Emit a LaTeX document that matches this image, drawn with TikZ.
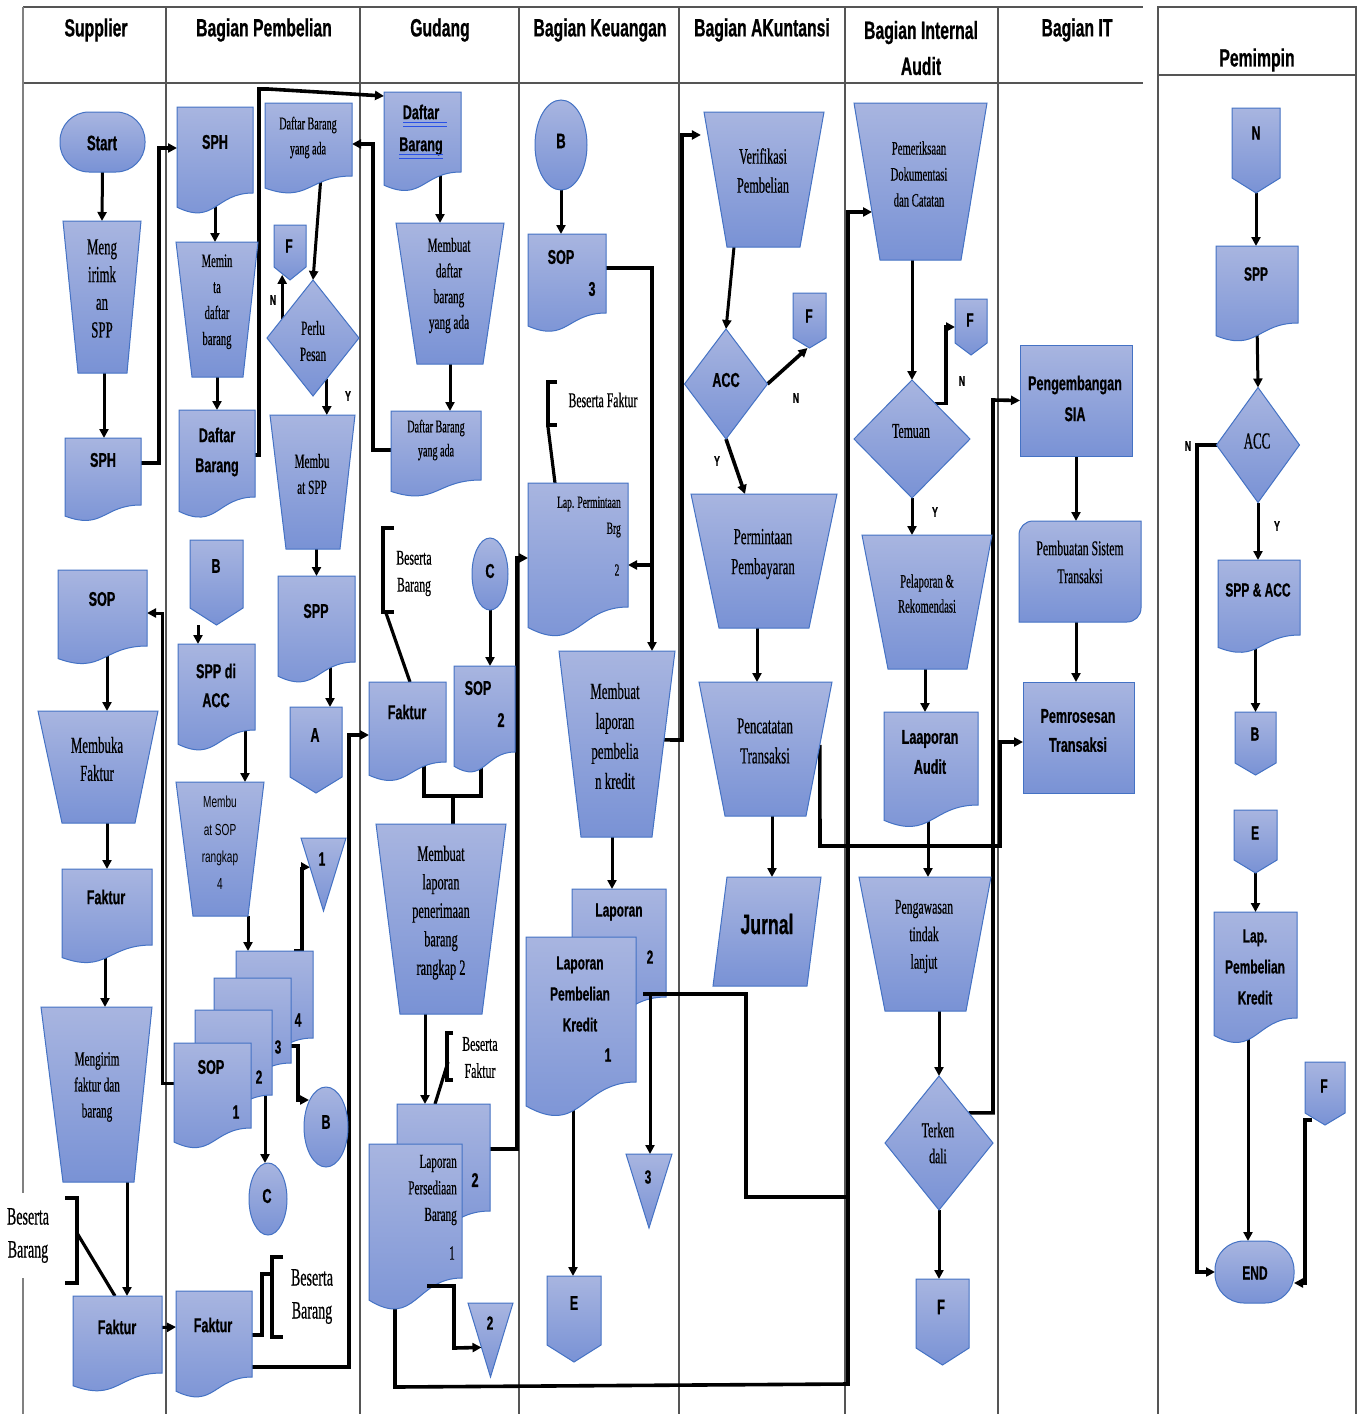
\documentclass[tikz,border=0pt]{standalone}
\usepackage{fontspec}
\usetikzlibrary{arrows.meta,calc}
\newfontfamily\sbf{Liberation Sans}[FakeStretch=0.63,FakeBold=0.6]
\newfontfamily\srf{Liberation Serif}[FakeStretch=0.56,FakeBold=0.5]
\newfontfamily\srg{Liberation Sans}[FakeStretch=0.63]
\definecolor{topc}{RGB}{168,181,224}
\definecolor{botc}{RGB}{121,146,213}
\definecolor{bordc}{RGB}{68,114,196}
\definecolor{gridc}{RGB}{85,85,85}
\definecolor{ulc}{RGB}{40,80,230}
\pgfdeclarelayer{bg}\pgfsetlayers{bg,main}
\tikzset{
 shp/.style={draw=bordc, line width=1pt, top color=topc, bottom color=botc},
 box/.style={rectangle, draw=none, fill=none, inner sep=0pt, outer sep=0pt},
 arr/.style={line width=3pt, -{Triangle[length=9pt,width=9pt]}},
 ln/.style={line width=3.2pt},
 tk/.style={line width=3.6pt},
 grid/.style={draw=gridc, line width=1.1pt},
 sb/.style 2 args={font=\sbf\bfseries\fontsize{#1}{#2}\selectfont, align=center, inner sep=0pt},
 sr/.style 2 args={font=\srf\fontsize{#1}{#2}\selectfont, align=center, inner sep=0pt},
 sn/.style 2 args={font=\srg\fontsize{#1}{#2}\selectfont, align=center, inner sep=0pt},
}
% document shape: name, x1, y1, x2, y2 (y2 = bottom of right edge)
\newcommand\Doc[5]{%
  \pgfmathsetmacro\docA{#5-#3}%
  \pgfmathsetmacro\docM{(#2+#4)/2}%
  \pgfmathsetmacro\docL{#3+1.165*\docA}%
  \pgfmathsetmacro\docC{#3+1.38*\docA}%
  \path[shp] (#2,#3) -- (#4,#3) -- (#4,#5) .. controls (\docM,#5) and (\docM,\docC) .. (#2,\docL) -- cycle;
  \node[box, minimum width={(#4-#2)*1pt}, minimum height={(#5-#3)*1pt}] (#1) at (\docM,{(#3+#5)/2}) {};
}
% quadrilateral (manual operation / parallelogram): name, xt1, xt2, yt, xb1, xb2, yb
\newcommand\Trap[7]{%
  \path[shp] (#2,#4) -- (#3,#4) -- (#6,#7) -- (#5,#7) -- cycle;
  \coordinate (#1-tl) at (#2,#4); \coordinate (#1-tr) at (#3,#4);
  \coordinate (#1-bl) at (#5,#7); \coordinate (#1-br) at (#6,#7);
  \node[box, minimum width={(#3-#2)*1pt}, minimum height={(#7-#4)*1pt}] (#1) at ({(#2+#3)/2},{(#4+#7)/2}) {};
}
% off-page connector: name, x1, x2, ytop, yside, ypoint
\newcommand\Off[6]{%
  \path[shp] (#2,#4) -- (#3,#4) -- (#3,#5) -- ({(#2+#3)/2},#6) -- (#2,#5) -- cycle;
  \node[box, minimum width={(#3-#2)*1pt}, minimum height={(#6-#4)*1pt}] (#1) at ({(#2+#3)/2},{(#4+#6)/2}) {};
}
% diamond: name, cx, cy, rx, ry
\newcommand\Dia[5]{%
  \path[shp] (#2-#4,#3) -- (#2,#3-#5) -- (#2+#4,#3) -- (#2,#3+#5) -- cycle;
  \node[box, minimum width={2*#4*1pt}, minimum height={2*#5*1pt}] (#1) at (#2,#3) {};
}
% ellipse: name, cx, cy, rx, ry
\newcommand\Ell[5]{%
  \path[shp] (#2,#3) ellipse [x radius=#4pt, y radius=#5pt];
  \node[box, minimum width={2*#4*1pt}, minimum height={2*#5*1pt}] (#1) at (#2,#3) {};
}
% inverted triangle: name, x1, x2, ytop, ypoint
\newcommand\Tri[5]{%
  \path[shp] (#2,#4) -- (#3,#4) -- ({(#2+#3)/2},#5) -- cycle;
  \node[box, minimum width={(#3-#2)*1pt}, minimum height={(#5-#4)*1pt}] (#1) at ({(#2+#3)/2},{(#4+#5)/2}) {};
}
% terminal
\newcommand\Term[5]{%
  \path[shp, rounded corners=29pt] (#2,#3) rectangle (#4,#5);
  \node[box, minimum width={(#4-#2)*1pt}, minimum height={(#5-#3)*1pt}] (#1) at ({(#2+#4)/2},{(#3+#5)/2}) {};
}
% rectangle
\newcommand\Rect[5]{%
  \path[shp] (#2,#3) rectangle (#4,#5);
  \node[box, minimum width={(#4-#2)*1pt}, minimum height={(#5-#3)*1pt}] (#1) at ({(#2+#4)/2},{(#3+#5)/2}) {};
}
% rectangle with rounded top-left and bottom-right corners
\newcommand\RRect[5]{%
  \path[shp] (#2,{(#3+#5)/2}) [rounded corners=14pt] -- (#2,#3) -- ({(#2+#4)/2},#3) [sharp corners] -- (#4,#3) -- (#4,{(#3+#5)/2}) [rounded corners=14pt] -- (#4,#5) -- ({(#2+#4)/2},#5) [sharp corners] -- (#2,#5) -- cycle;
  \node[box, minimum width={(#4-#2)*1pt}, minimum height={(#5-#3)*1pt}] (#1) at ({(#2+#4)/2},{(#3+#5)/2}) {};
}
\begin{document}
\begin{tikzpicture}[x=1pt,y=-1pt]
\useasboundingbox (0,0) rectangle (1362,1414);

%================ SHAPES ================
% Supplier
\Term{start}{60}{112}{145}{172}
\Trap{meng}{63}{141}{221}{78}{127}{373}
\Doc{sphS}{65}{438}{141}{505}
\Doc{sopS}{58}{570}{147}{646}
\Trap{membuka}{38}{158}{711}{62}{135}{823}
\Doc{fakM}{62}{869}{152}{945}
\Trap{mengirim}{41}{152}{1007}{63}{134}{1182}
\Doc{fakS}{73}{1296}{162}{1373}
% Bagian Pembelian
\Doc{sph1}{177}{107}{253}{193}
\Trap{memin}{176}{258}{242}{192}{243}{377}
\Doc{dbP}{179}{410}{255}{497}
\Doc{dbyaP}{265}{103}{352}{176}
\Off{F1}{274}{306}{225}{267}{280}
\Dia{perlu}{313}{338}{46}{58}
\Trap{mSPP}{270}{355}{415}{286}{340}{549}
\Doc{sppP}{278}{576}{355}{662}
\Off{A1}{290}{342}{707}{777}{793}
\Off{B1}{190}{243}{540}{608}{625}
\Doc{sppAcc}{178}{644}{255}{730}
\Trap{mSOP}{176}{264}{782}{193}{248}{916}
\Doc{doc4}{236}{951}{313}{1038}
\Doc{doc3}{214}{978}{291}{1063}
\Doc{doc2}{195}{1010}{272}{1095}
\Doc{sopP}{174}{1043}{251}{1128}
\Tri{tri1}{301}{346}{838}{911}
\Ell{B2}{326}{1127}{22}{40}
\Ell{C1}{268}{1199}{19}{36}
\Doc{fakP}{176}{1291}{252}{1377}
% Gudang
\Doc{dbG}{384}{92}{461}{172}
\Trap{mdba}{396}{504}{223}{417}{483}{364}
\Doc{dbyaG}{391}{411}{481}{480}
\Ell{C2}{490}{574}{18}{36}
\Doc{fakG}{369}{682}{446}{762}
\Doc{sop2G}{454}{666}{515}{752}
\Trap{mlpb}{376}{506}{824}{400}{482}{1014}
\Doc{lpb2}{397}{1104}{490}{1211}
\Doc{lpb1}{369}{1144}{462}{1278}
\Tri{tri2}{468}{513}{1303}{1377}
% Bagian Keuangan
\Ell{B3}{561}{145}{26}{45}
\Doc{sop3}{528}{234}{606}{313}
\Doc{lapPerm}{528}{483}{628}{607}
\Trap{mlpk}{559}{675}{651}{581}{652}{837}
\Doc{lpk2}{572}{889}{666}{997}
\Doc{lpk1}{526}{937}{636}{1082}
\Tri{tri3}{626}{672}{1154}{1228}
\Off{E1}{547}{601}{1276}{1345}{1362}
% Bagian Akuntansi
\Trap{verif}{704}{824}{112}{727}{800}{247}
\Dia{acc1}{726}{384}{41.5}{55}
\Off{F2}{793}{826}{293}{338}{348}
\Trap{permB}{691}{837}{494}{719}{809}{628}
\Trap{pencat}{699}{832}{682}{725}{806}{816}
\Trap{jurnal}{727}{821}{877}{713}{807}{986}
% Bagian Internal Audit
\Trap{pem}{854}{987}{103}{880}{961}{260}
\Dia{temuan}{912}{439}{58}{59}
\Off{F3}{955}{987}{299}{343}{355}
\Trap{pelap}{862}{992}{535}{888}{967}{669}
\Doc{laud}{884}{712}{978}{805}
\Trap{pengaw}{859}{991}{877}{885}{966}{1011}
\Dia{terk}{939}{1143}{54}{67}
\Off{F4}{916}{969}{1279}{1348}{1365}
% Bagian IT
\Rect{sia}{1020}{345}{1132}{456}
\RRect{pemb}{1019}{521}{1141}{622}
\Rect{pemros}{1023}{682}{1134}{793}
% Pemimpin
\Off{N1}{1232}{1280}{108}{178}{193}
\Doc{sppM}{1216}{246}{1298}{323}
\Dia{acc2}{1258}{445}{41.5}{57.5}
\Doc{sppacc}{1218}{560}{1300}{635}
\Off{B4}{1235}{1276}{712}{763}{775}
\Off{E2}{1234}{1277}{810}{860}{873}
\Doc{lpk3}{1214}{912}{1297}{1018}
\Off{F5}{1305}{1345}{1062}{1113}{1125}
\Term{end}{1215}{1241}{1294}{1303}

%================ TEXT ================
\node[sb={25}{36}] (h1) at (96,30) {Supplier};
\node[sb={25}{36}] (h2) at (264,30) {Bagian Pembelian};
\node[sb={25}{36}] (h3) at (440,30) {Gudang};
\node[sb={25}{36}] (h4) at (600,30) {Bagian Keuangan};
\node[sb={25}{36}] (h5) at (762,30) {Bagian AKuntansi};
\node[sb={25}{36}] (h6) at (921,48) {Bagian Internal\\Audit};
\node[sb={25}{36}] (h7) at (1077,30) {Bagian IT};
\node[sb={25}{36}] (h8) at (1257,60) {Pemimpin};
% Supplier
\node[sb={21}{28}] (t-start) at (102,143) {Start};
\node[sr={23}{27.7}] (t-meng) at (102,288.5) {Meng\\irimk\\an\\SPP};
\node[sb={20}{28}] (t-sphS) at (103,460) {SPH};
\node[sb={20}{28}] (t-sopS) at (102,599) {SOP};
\node[sr={23}{28}] (t-membuka) at (97,759) {Membuka\\Faktur};
\node[sb={20}{28}] (t-fakM) at (106,897) {Faktur};
\node[sr={20}{26}] (t-mengirim) at (97,1087) {Mengirim\\faktur dan\\barang};
\node[sb={20}{28}] (t-fakS) at (117,1327) {Faktur};
\node[sr={25}{33}, fill=white, minimum height=85pt, minimum width=50pt] (t-bb1) at (28,1235.5) {Beserta\\Barang};
% Pembelian
\node[sb={20}{28}] (t-sph1) at (215,142) {SPH};
\node[sr={19}{26}] (t-memin) at (217,301.75) {Memin\\ta\\daftar\\barang};
\node[sb={20}{30}] (t-dbP) at (217,452) {Daftar\\Barang};
\node[sr={18}{25}] (t-dbyaP) at (308,137.5) {Daftar Barang\\yang ada};
\node[sb={19}{24}] (t-F1) at (289,246) {F};
\node[sr={20}{26}] (t-perlu) at (313,341) {Perlu\\Pesan};
\node[sr={20}{26}] (t-mSPP) at (312,474) {Membu\\at SPP};
\node[sb={20}{28}] (t-sppP) at (316,611) {SPP};
\node[sb={20}{28}] (t-A1) at (315,735) {A};
\node[sb={20}{28}] (t-B1) at (216,566) {B};
\node[sb={20}{29}] (t-sppAcc) at (216,685.5) {SPP di\\ACC};
\node[sn={16}{27.3}] (t-mSOP) at (220,843) {Membu\\at SOP\\rangkap\\4};
\node[sb={19}{24}] (t-d4) at (298,1020) {4};
\node[sb={19}{24}] (t-d3) at (278,1047) {3};
\node[sb={19}{24}] (t-d2) at (259,1077) {2};
\node[sb={20}{24}] (t-sopP) at (211,1067) {SOP};
\node[sb={19}{24}] (t-d1) at (236,1112) {1};
\node[sb={19}{24}] (t-tri1) at (322,859) {1};
\node[sb={20}{24}] (t-B2) at (326,1122) {B};
\node[sb={20}{24}] (t-C1) at (267,1196) {C};
\node[sb={20}{28}] (t-fakP) at (213,1325) {Faktur};
\node[sr={25}{33}] (t-bb2) at (312,1296.5) {Beserta\\Barang};
\node[sb={14}{16}] (l-n1) at (273,300) {N};
\node[sb={14}{16}] (l-y1) at (348,396) {Y};
% Gudang
\node[sb={20}{32}] (t-dbG) at (421,130) {Daftar\\Barang};
\node[sr={20}{25.7}] (t-mdba) at (449,285.5) {Membuat\\daftar\\barang\\yang ada};
\node[sr={18}{24}] (t-dbyaG) at (436,440) {Daftar Barang\\yang ada};
\node[sr={21}{27}] (t-bb3) at (414,573.5) {Beserta\\Barang};
\node[sb={20}{24}] (t-C2) at (490,571) {C};
\node[sb={20}{28}] (t-fakG) at (407,712) {Faktur};
\node[sb={20}{28}] (t-sop2G) at (478,688) {SOP};
\node[sb={20}{28}] (t-sop2Gn) at (501,720) {2};
\node[sr={22}{28.5}] (t-mlpb) at (441,912.6) {Membuat\\laporan\\penerimaan\\barang\\rangkap 2};
\node[sr={21}{27}] (t-bf1) at (480,1057.5) {Beserta\\Faktur};
\node[sr={20}{26.5}, align=right, anchor=east] (t-lpb1) at (457,1190) {Laporan\\Persediaan\\Barang};
\node[sr={20}{24}] (t-lpb1n) at (452,1253) {1};
\node[sb={20}{24}] (t-lpb2n) at (475,1180) {2};
\node[sb={19}{24}] (t-tri2) at (490,1323) {2};
% Keuangan
\node[sb={21}{24}] (t-B3) at (561,141) {B};
\node[sb={20}{24}] (t-sop3) at (561,257) {SOP};
\node[sb={20}{24}] (t-sop3n) at (592,289) {3};
\node[sr={21}{26}] (t-bf2) at (603,400) {Beserta Faktur};
\node[sr={17}{26}, align=right, anchor=east] (t-lapPerm) at (621,517) {Lap. Permintaan\\Brg};
\node[sr={17}{24}] (t-lapPermn) at (617,570) {2};
\node[sr={23}{30}] (t-mlpk) at (615,736) {Membuat\\laporan\\pembelia\\n kredit};
\node[sb={19}{24}] (t-lpk2) at (619,912) {Laporan};
\node[sb={19}{24}] (t-lpk2n) at (650,957) {2};
\node[sb={19}{31}] (t-lpk1) at (580,994) {Laporan\\Pembelian\\Kredit};
\node[sb={19}{24}] (t-lpk1n) at (608,1055) {1};
\node[sb={19}{24}] (t-tri3) at (648,1177) {3};
\node[sb={20}{24}] (t-E1) at (574,1303) {E};
% Akuntansi
\node[sr={22}{29}] (t-verif) at (763,170.5) {Verifikasi\\Pembelian};
\node[sb={20}{24}] (t-acc1) at (726,380) {ACC};
\node[sb={19}{24}] (t-F2) at (809,316) {F};
\node[sr={23}{30}] (t-permB) at (763,554) {Permintaan\\Pembayaran};
\node[sr={23}{30}] (t-pencat) at (765,741) {Pencatatan\\Transaksi};
\node[sb={28}{32}] (t-jurnal) at (767,924) {Jurnal};
\node[sb={14}{16}] (l-n2) at (796,398) {N};
\node[sb={14}{16}] (l-y2) at (717,461) {Y};
% Internal Audit
\node[sr={19}{26}] (t-pem) at (919,174) {Pemeriksaan\\Dokumentasi\\dan Catatan};
\node[sr={21}{26}] (t-temuan) at (911,431) {Temuan};
\node[sb={19}{24}] (t-F3) at (970,320) {F};
\node[sr={19}{25}] (t-pelap) at (927,593.5) {Pelaporan \&\\Rekomendasi};
\node[sb={20}{30}] (t-laud) at (930,752) {Laaporan\\Audit};
\node[sr={21}{27.5}] (t-pengaw) at (924,936.5) {Pengawasan\\tindak\\lanjut};
\node[sr={21}{26}] (t-terk) at (938,1143) {Terken\\dali};
\node[sb={21}{24}] (t-F4) at (941,1307) {F};
\node[sb={14}{16}] (l-n3) at (962,381) {N};
\node[sb={14}{16}] (l-y3) at (935,512) {Y};
% IT
\node[sb={20}{31}] (t-sia) at (1075,398.5) {Pengembangan\\SIA};
\node[sr={21}{28}] (t-pemb) at (1080,562) {Pembuatan Sistem\\Transaksi};
\node[sb={20}{29}] (t-pemros) at (1078,730.5) {Pemrosesan\\Transaksi};
% Pemimpin
\node[sb={19}{24}] (t-N1) at (1256,133) {N};
\node[sb={19}{24}] (t-sppM) at (1256,274) {SPP};
\node[sr={23}{26}] (t-acc2) at (1257,441) {ACC};
\node[sb={19}{24}] (t-sppacc) at (1258,590) {SPP \& ACC};
\node[sb={19}{24}] (t-B4) at (1255,734) {B};
\node[sb={19}{24}] (t-E2) at (1255,833) {E};
\node[sb={19}{31}] (t-lpk3) at (1255,967) {Lap.\\Pembelian\\Kredit};
\node[sb={19}{24}] (t-F5) at (1324,1086) {F};
\node[sb={19}{24}] (t-end) at (1255,1273) {END};
\node[sb={14}{16}] (l-n4) at (1188,446) {N};
\node[sb={14}{16}] (l-y4) at (1277,526) {Y};

% blue underlines under "Daftar Barang"
\draw[ulc, line width=1.4pt] (403,122.5) -- (447,122.5);
\draw[ulc, line width=0.9pt] (403,126.5) -- (447,126.5);
\draw[ulc, line width=1.4pt] (399,154.5) -- (443,154.5);
\draw[ulc, line width=0.9pt] (399,158.5) -- (443,158.5);

%================ CONNECTORS on top ================
\draw[tk] (643,994) -- (746,994) -- (746,1197) -- (848,1197);
\draw[arr] (650,994) -- (tri3.north -| 650,0);
\draw[arr, tk] ($(lpb1.south)+(11.5,8)$) -- (454,1286) -- (454,1348) -- ($(tri2.north west)!0.6!(tri2.south)$);

%================ BACKGROUND: grid and connectors ================
\begin{pgfonlayer}{bg}
\fill[white] (0,0) rectangle (1362,1414);
\draw[grid, line width=2pt] (23,7) -- (1143,7);
\draw[grid, line width=2pt] (23,83) -- (1143,83);
\draw[draw=gray, line width=1.8pt] (23,7) -- (23,1414);
\foreach \xx in {166,360,519,679,845,998} \draw[grid] (\xx,7) -- (\xx,1414);
\draw[grid, line width=1.6pt] (1158,1414) -- (1158,7) -- (1356,7) -- (1356,1414);
\draw[grid, line width=2pt] (1158,75) -- (1356,75);

% Supplier
\draw[arr] (start.south) -- (meng.north);
\draw[arr] (meng.south -| 104,0) -- (sphS.north -| 104,0);
\draw[arr, tk] (sphS.east |- 0,463) -- (159,463) -- (159,148) -- (sph1.west |- 0,148);
\draw[arr] (sopP.west |- 0,1083) -- (162,1083) -- (162,613) -- (sopS.east |- 0,613);
\draw[arr] (sopS.south -| 107,0) -- (membuka.north -| 107,0);
\draw[arr] (membuka.south -| 107,0) -- (fakM.north -| 107,0);
\draw[arr] (fakM.south -| 105,0) -- (mengirim.north -| 105,0);
\draw[arr] (mengirim.south -| 127,0) -- (fakS.north -| 127,0);
\draw[arr] ([yshift=7pt]fakS.east) -- ([yshift=7pt]fakP.west);
\draw[ln] (65,1198) -- (77,1198) -- (77,1283) -- (65,1283);
\draw[ln] (77,1233) -- (fakS.north -| 115,0);

% Pembelian
\draw[arr] (sph1.south) -- (sph1.south |- memin.north);
\draw[arr] (memin.south) -- (memin.south |- dbP.north);
\draw[arr, tk] (dbP.east |- 0,455) -- (259,455) -- (259,89) -- (268,89) -- (dbG.west |- 0,96);
\draw[arr, tk] (dbyaG.west |- 0,450) -- (373,450) -- (373,144) -- (dbyaP.east |- 0,144);
\draw[arr] (dbyaP.south -| 321,0) -- (perlu.north);
\coordinate (pn) at ($(perlu.west)!0.33!(perlu.north)$);
\draw[arr] (pn) -- ++(0,-44);
\coordinate (py) at ($(perlu.south)!0.3!(perlu.east)$);
\draw[arr] (py) -- (py |- mSPP.north);
\draw[arr] (mSPP.south -| sppP.north) -- (sppP.north);
\draw[arr] (sppP.south -| 330,0) -- (A1.north -| 330,0);
\draw[arr] (B1.south -| 198,0) -- (sppAcc.north -| 198,0);
\draw[arr] (sppAcc.south -| 245,0) -- (mSOP.north -| 245,0);
\draw[arr] (mSOP.south -| 248,0) -- (doc4.north -| 248,0);
\draw[arr, tk] (doc4.north -| 294,0) -- (302,951) -- (302,867) -- ($(tri1.north west)!0.4!(tri1.south)$);
\coordinate (b2in) at ($(B2.center)+(-17,-27)$);
\draw[arr, tk] (doc3.east |- 0,1046) -- (298,1046) -- (298,1100) -- (b2in);
\draw[arr] (doc2.south -| 265,0) -- (C1.north -| 265,0);
\draw[arr, tk] (fakP.east |- 0,1367) -- (349,1367) -- (349,735) -- (fakG.west |- 0,735);
\draw[ln] (fakP.east |- 0,1335) -- (262,1335) -- (262,1274) -- (272,1274);
\draw[ln] (283,1257) -- (272,1257) -- (272,1337) -- (283,1337);

% Gudang
\draw[arr] (dbG.south -| 440,0) -- (mdba.north -| 440,0);
\draw[arr] (mdba.south) -- (mdba.south |- dbyaG.north);
\draw[ln] (394,528) -- (383,528) -- (383,612) -- (394,612);
\draw[ln] (386,613) -- (fakG.north -| 410,0);
\draw[arr] (C2.south) -- (C2.south |- sop2G.north);
\draw[tk] (fakG.south -| 424,0) -- (424,796) -- (481,796) -- (sop2G.south -| 481,0);
\draw[tk] (453,796) -- (mlpb.north -| 453,0);
\draw[arr] (mlpb.south -| 425,0) -- (lpb2.north -| 425,0);
\draw[ln] (453,1033) -- (447,1033) -- (447,1080) -- (453,1080);
\draw[ln] (448,1062) -- (lpb2.north -| 435,0);
\draw[arr, tk] (lpb2.east |- 0,1149) -- (517,1149) -- (517,558) -- (lapPerm.west |- 0,558);
\draw[arr, tk] (lpb1.south -| 395,0) -- (395,1387) -- (848,1384) -- (848,212) -- ($(pem-tl)!0.694!(pem-bl)$);

% Keuangan
\draw[arr] (B3.south) -- (B3.south |- sop3.north);
\draw[tk] (sop3.east |- 0,268) -- (652,268) -- (652,565);
\draw[arr, tk] (652,565) -- (lapPerm.east |- 0,565);
\draw[arr, tk] (652,565) -- (mlpk.north -| 652,0);
\draw[ln] (557,382) -- (548,382) -- (548,425) -- (557,425);
\draw[ln] (548,427) -- (lapPerm.north -| 555,0);
\draw[arr, tk] ($(mlpk-tr)!0.478!(mlpk-br)$) -- (682,740) -- (682,135) -- ($(verif-tl)!0.17!(verif-bl)+(-7,0)$);
\draw[arr] (mlpk.south -| 612,0) -- (lpk2.north -| 612,0);
\draw[arr] (lpk1.south -| 573,0) -- (E1.north -| 573,0);

% Akuntansi
\draw[arr] (verif.south -| 734,0) -- (acc1.north);
\draw[arr, tk] (acc1.east) -- ([xshift=-2pt]F2.south);
\draw[arr, tk] (acc1.south) -- (permB.north -| 745,0);
\draw[arr] (permB.south -| 757,0) -- (pencat.north -| 757,0);
\draw[arr] (pencat.south -| 772,0) -- (jurnal.north -| 772,0);
\draw[arr, tk] ($(pencat-tr)!0.47!(pencat-br)$) -- (820,846) -- (1000,846) -- (1000,742) -- (pemros.west |- 0,742);

% Internal Audit
\draw[arr] (pem.south -| temuan.north) -- (temuan.north);
\coordinate (tn) at ($(temuan.north)!0.4!(temuan.east)$);
\draw[arr, tk] (tn) -| (946,327) -- (F3.west);
\draw[arr] (temuan.south) -- (temuan.south |- pelap.north);
\draw[arr] (pelap.south -| 925,0) -- (laud.north -| 925,0);
\draw[arr] (laud.south -| 928,0) -- (pengaw.north -| 928,0);
\draw[arr] (pengaw.south -| terk.north) -- (terk.north);
\coordinate (tk1) at ($(terk.north)!0.55!(terk.east)$);
\draw[arr, tk] (tk1) -| (993,400) -- (sia.west);
\draw[arr] (terk.south) -- (terk.south |- F4.north);

% IT
\draw[arr] (sia.south) -- (sia.south |- pemb.north);
\draw[arr] (sia.south |- pemb.south) -- (sia.south |- pemros.north);

% Pemimpin
\draw[arr] (N1.south) -- (N1.south |- sppM.north);
\draw[arr] (sppM.south) -- (acc2.north);
\draw[arr, tk] (acc2.west) -- (1197,445) -- (1197,1272) -- (end.west);
\draw[arr] (acc2.south) -- (acc2.south |- sppacc.north);
\draw[arr] (sppacc.south -| B4.north) -- (B4.north);
\draw[arr] (E2.south) -- (E2.south |- lpk3.north);
\draw[arr] (lpk3.south -| 1248,0) -- (end.north -| 1248,0);
\draw[arr, tk] ($(F5.south)+(-13,-5)$) -- (1305,1120) -- (1305,1283) -- (end.east |- 0,1283);
\end{pgfonlayer}
\end{tikzpicture}
\end{document}
